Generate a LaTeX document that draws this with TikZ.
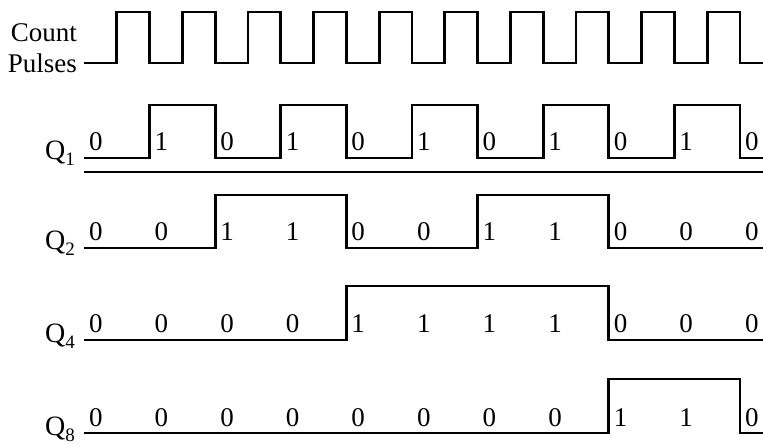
\documentclass[tikz,border=0pt]{standalone}
\usepackage{fontspec}
\setmainfont{Liberation Serif}
\usetikzlibrary{positioning}

\newcommand{\qname}[1]{Q{\fontsize{19}{20}\selectfont\raisebox{-6pt}{#1}}}

\tikzset{
  wave/.style={line width=2.8pt, line join=miter},
  bit/.style={font=\fontsize{27}{30}\selectfont, anchor=base, inner sep=0pt},
  siglabel/.style={font=\fontsize{27}{30}\selectfont, inner sep=0pt},
  qlabel/.style={font=\fontsize{28}{30}\selectfont, inner sep=0pt, anchor=base east},
}

\begin{document}
\begin{tikzpicture}[x=65.6pt, y=-1pt]
    \useasboundingbox (-1.2805,0) rectangle (10.3506,446);

    % Start of each waveform
    \coordinate (clk) at (0,63);
    \coordinate (q1) at (0,158);
    \coordinate (q2) at (0,248);
    \coordinate (q4) at (0,340);
    \coordinate (q8) at (0,433);

    % Count pulses
    \draw[wave] (clk) foreach \k in {0,...,9} { -- (\k+0.5,63) -- (\k+0.5,12) -- (\k+1,12) -- (\k+1,63) } -- (10.35,63);
    \node[siglabel, left=7pt of clk] (pulses) {Pulses};
    \node[siglabel, above left=11pt and 0pt of pulses.north east] (count) {Count};

    % Q1 toggles on every falling edge
    \draw[wave] (q1) foreach \k in {1,3,5,7,9} { -- (\k,158) -- (\k,105) -- (\k+1,105) -- (\k+1,158) } -- (10.35,158);
    \draw[wave] (0,172) -- (10.35,172);
    \node[qlabel, below left=2pt and 9pt of q1, anchor=base east] (lq1) {\qname{1}};
    \foreach \b [count=\i from 0] in {0,1,0,1,0,1,0,1,0,1,0}
        \node[bit] (qa\i) at (\i+0.18,151) {\b};

    % Q2
    \draw[wave] (q2) foreach \k in {2,6} { -- (\k,248) -- (\k,195) -- (\k+2,195) -- (\k+2,248) } -- (10.35,248);
    \node[qlabel, below left=2pt and 9pt of q2, anchor=base east] (lq2) {\qname{2}};
    \foreach \b [count=\i from 0] in {0,0,1,1,0,0,1,1,0,0,0}
        \node[bit] (qb\i) at (\i+0.18,241) {\b};

    % Q4
    \draw[wave] (q4) -- (4,340) -- (4,286) -- (8,286) -- (8,340) -- (10.35,340);
    \node[qlabel, below left=2pt and 9pt of q4, anchor=base east] (lq4) {\qname{4}};
    \foreach \b [count=\i from 0] in {0,0,0,0,1,1,1,1,0,0,0}
        \node[bit] (qc\i) at (\i+0.18,333) {\b};

    % Q8
    \draw[wave] (q8) -- (8,433) -- (8,379) -- (10,379) -- (10,433) -- (10.35,433);
    \node[qlabel, below left=2pt and 9pt of q8, anchor=base east] (lq8) {\qname{8}};
    \foreach \b [count=\i from 0] in {0,0,0,0,0,0,0,0,1,1,0}
        \node[bit] (qd\i) at (\i+0.18,426) {\b};
\end{tikzpicture}
\end{document}
